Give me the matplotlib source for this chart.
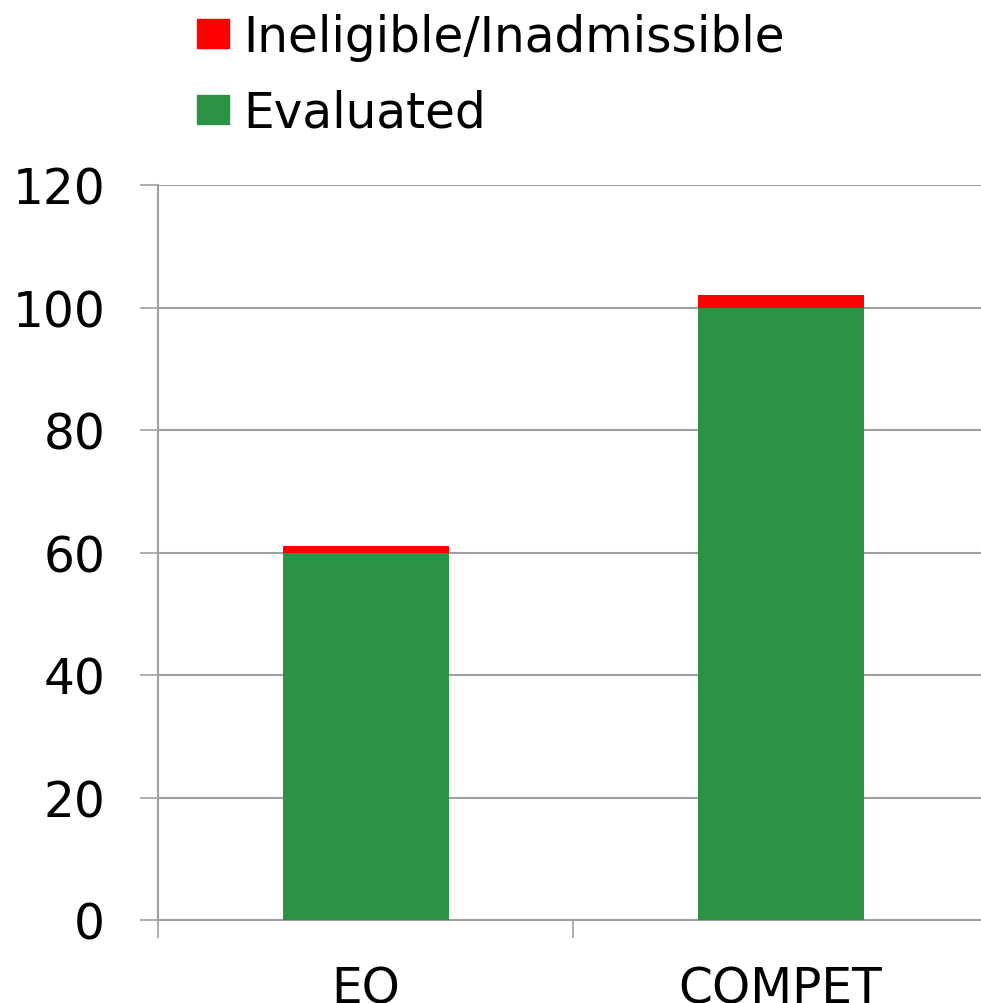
import matplotlib.pyplot as plt
from matplotlib.patches import Patch

# Data
categories = ["EO", "COMPET"]
evaluated = [60, 100]
ineligible = [1, 2]

green = "#2c9245"
red = "#ff0000"
grid_gray = "#a0a0a0"

plt.rcParams["font.family"] = ["DejaVu Sans"]

fig = plt.figure(figsize=(9.81, 10.04), dpi=100)
ax = fig.add_axes([158 / 981, 83 / 1004, 830 / 981, 735 / 1004])

x = list(range(len(categories)))
ax.bar(x, evaluated, width=0.4, color=green, zorder=3)
ax.bar(x, ineligible, width=0.4, bottom=evaluated, color=red, zorder=3)

ax.set_xlim(-0.5, 1.5)
ax.set_ylim(0, 120)
ax.set_yticks(range(0, 121, 20))
ax.yaxis.grid(True, color=grid_gray, linewidth=1.5, zorder=0)

# category boundaries as major ticks, labels on minor ticks
ax.set_xticks([-0.5, 0.5, 1.5])
ax.set_xticklabels([])
ax.set_xticks(x, minor=True)
ax.set_xticklabels(categories, minor=True)
ax.tick_params(axis="x", which="major", length=13, width=1.2, color=grid_gray)
ax.tick_params(axis="x", which="minor", length=0, pad=32, labelsize=35)
ax.tick_params(axis="y", length=13, width=1.2, color=grid_gray, pad=25, labelsize=35)

for side in ["top", "right"]:
    ax.spines[side].set_visible(False)
ax.spines["left"].set_color(grid_gray)
ax.spines["left"].set_linewidth(1.5)
ax.spines["bottom"].set_color(grid_gray)
ax.spines["bottom"].set_linewidth(1.5)

handles = [Patch(color=red, label="Ineligible/Inadmissible"),
           Patch(color=green, label="Evaluated")]
fig.legend(handles=handles, loc="upper left", bbox_to_anchor=(197 / 981, 1 - 14 / 1004),
           frameon=False, fontsize=35, handlelength=0.66, handleheight=0.55,
           handletextpad=0.29, labelspacing=0.57, borderpad=0, borderaxespad=0)

fig.savefig("out.png", dpi=100)
